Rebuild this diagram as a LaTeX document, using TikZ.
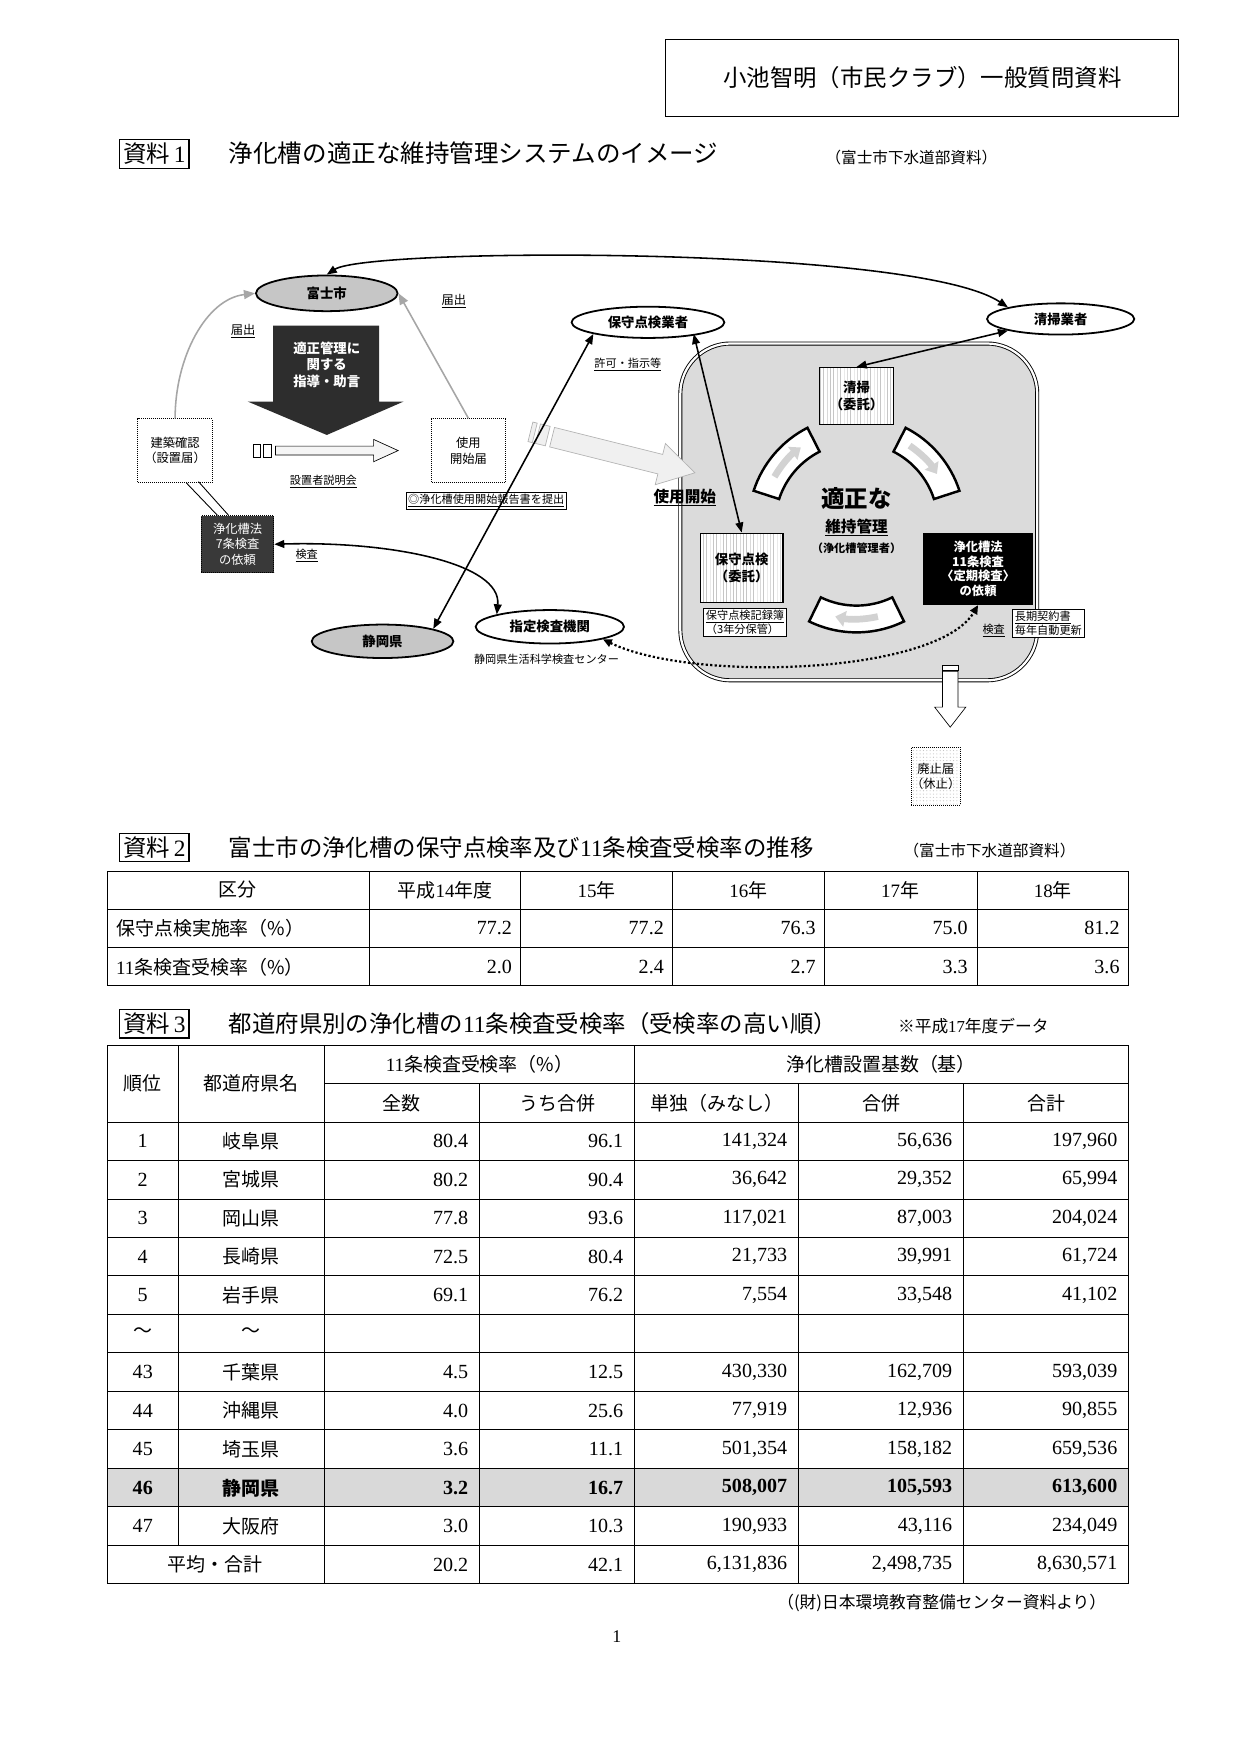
\documentclass[tikz,border=0pt]{standalone}
\usepackage{fontspec}
\setmainfont{Noto Sans CJK JP}
\newfontfamily\num{Liberation Serif}
\usetikzlibrary{arrows.meta,shapes.geometric,patterns,calc}
\tikzset{
 txt/.style={inner sep=0pt},
 ell/.style={draw,line width=1.6pt,ellipse,inner sep=0pt,font=\fontsize{12}{14}\bfseries},
 dotbox/.style={draw,densely dotted,line width=0.8pt,inner sep=0pt,fill=white},
 hatch/.style={draw,line width=1pt,preaction={fill=white},pattern=vertical lines,pattern color=gray!45,inner sep=0pt},
 conn/.style={line width=1.4pt,{Triangle[length=9pt,width=7pt]}-{Triangle[length=9pt,width=7pt]}},
 gconn/.style={line width=1.4pt,draw=gray!70,-{Triangle[length=10pt,width=8pt]},color=gray!70},
 band/.style={draw,line width=2.2pt,fill=white},
 inarr/.style={line width=6pt,draw=gray!35,-{Triangle[length=9pt,width=14pt]}},
 tl/.style={line width=0.8pt},
 cell/.style={inner sep=0pt,font=\fontsize{17}{19}\selectfont},
 label/.style={draw,line width=1pt,inner sep=3pt,font=\fontsize{21}{23}\selectfont},
}
\begin{document}
\begin{tikzpicture}[x=1pt,y=-1pt]
\useasboundingbox[fill=white] (0,0) rectangle (1110,1570);
% header
\node[draw,line width=1pt,minimum width=460pt,minimum height=69pt,font=\fontsize{21}{23}\selectfont] (hdr) at (827,70) {小池智明（市民クラブ）一般質問資料};
% 資料1
\node[label,anchor=west] (s1) at (107,138) {資料\,{\num 1}};
\node[txt,anchor=west,font=\fontsize{22}{24}\selectfont] (t1) at (205,137) {浄化槽の適正な維持管理システムのイメージ};
\node[txt,anchor=west,font=\fontsize{14}{16}\selectfont] (t1b) at (740,141) {（富士市下水道部資料）};

% ===== diagram =====
\node[draw,double,double distance=2pt,line width=0.8pt,rounded corners=45pt,fill=gray!28,minimum width=320pt,minimum height=302pt] (sys) at (770,459) {};
\node[ell,fill=gray!45,minimum width=127pt,minimum height=32pt] (fuji) at (293,263) {富士市};
\node[ell,fill=gray!45,minimum width=127pt,minimum height=30pt] (shizu) at (343,575) {静岡県};
\node[ell,fill=white,minimum width=133pt,minimum height=30pt] (shitei) at (493,562) {指定検査機関};
\node[ell,fill=white,minimum width=137pt,minimum height=28pt] (hoshu) at (581,289) {保守点検業者};
\node[ell,fill=white,minimum width=132pt,minimum height=28pt] (seiso) at (951,286) {清掃業者};
\node[txt,font=\fontsize{10}{12}\selectfont] (center) at (490,591) {静岡県生活科学検査センター};

% dark arrow
\fill[gray!35!black] (245,292) -- (340,292) -- (340,360) -- (362,360) -- (293,390) -- (222,360) -- (245,360) -- cycle;
\node[txt,align=center,text=white,font=\fontsize{12}{15}\bfseries] (shido) at (293,327) {適正管理に\\関する\\指導・助言};
\node[txt,font=\fontsize{11}{13}\selectfont] (tod1) at (218,297) {\underline{届出}};
\node[txt,font=\fontsize{11}{13}\selectfont] (tod2) at (407,270) {\underline{届出}};

\node[dotbox,minimum width=67pt,minimum height=57pt,align=center,font=\fontsize{11}{14}\selectfont] (kenchiku) at (157,404) {建築確認\\（設置届）};
\node[dotbox,minimum width=66pt,minimum height=57pt,align=center,font=\fontsize{11}{14}\selectfont] (shiyo) at (420,404) {使用\\開始届};
\node[draw,densely dotted,line width=0.8pt,fill=gray!45!black,text=white,minimum width=65pt,minimum height=51pt,align=center,inner sep=0pt,font=\fontsize{11}{14}\selectfont] (nana) at (213,488) {浄化槽法\\7条検査\\の依頼};

% small arrow
\draw[fill=white,line width=0.6pt] (227,398) rectangle (233,410);
\draw[fill=white,line width=0.6pt] (236,398) rectangle (243,410);
\draw[fill=gray!8,line width=0.6pt] (247,400) -- (335,400) -- (335,394) -- (357,404) -- (335,414) -- (335,408) -- (247,408) -- cycle;
\node[txt,font=\fontsize{10}{12}\selectfont] (setsu) at (290,432) {\underline{設置者説明会}};
\node[draw,line width=0.6pt,inner sep=2pt,font=\fontsize{10}{12}\selectfont] (hokoku) at (436,449) {\underline{◎浄化槽使用開始報告書を提出}};
\node[txt,font=\fontsize{10}{12}\selectfont] (kensa1) at (275,498) {\underline{検査}};
\node[txt,font=\fontsize{10}{12}\selectfont] (kyoka) at (563,327) {\underline{許可・指示等}};

% big grey arrow
\begin{scope}[shift={(495,392)},rotate=-14]
\draw[fill=gray!12,draw=gray!60,line width=0.6pt] (0,-9) -- (100,-9) -- (100,-19) -- (132,0) -- (100,19) -- (100,9) -- (0,9) -- cycle;
\draw[fill=gray!12,draw=gray!60,line width=0.6pt] (-20,-9) rectangle (-16,9);
\draw[fill=gray!12,draw=gray!60,line width=0.6pt] (-13,-9) rectangle (-4,9);
\end{scope}
\node[txt,font=\fontsize{14}{16}\bfseries] (kaishi) at (614,446) {\underline{使用開始}};

% inner boxes
\node[hatch,minimum width=66pt,minimum height=51pt,align=center,font=\fontsize{12}{15}\bfseries] (seisob) at (768,355) {清掃\\（委託）};
\node[hatch,minimum width=74pt,minimum height=62pt,align=center,font=\fontsize{12}{15}\bfseries] (hoshub) at (665,509) {保守点検\\（委託）};
\node[draw,line width=1pt,fill=black,text=white,minimum width=97pt,minimum height=64pt,inner sep=0pt,align=center,font=\fontsize{11}{13}\bfseries] (juichi) at (877,510) {浄化槽法\\11条検査\\〈定期検査〉\\の依頼};
\node[txt,font=\fontsize{21}{23}\bfseries] (tekisei) at (768,447) {適正な};
\node[txt,font=\fontsize{14}{16}\bfseries] (iji) at (768,473) {\underline{維持管理}};
\node[txt,font=\fontsize{10}{12}\bfseries] (kanri) at (768,492) {（浄化槽管理者）};
\node[draw,line width=0.6pt,fill=white,inner sep=2pt,align=left,font=\fontsize{10}{12}\selectfont] (kiroku) at (668,558) {\underline{保守点検記録簿}\\（3年分保管）};
\node[draw,line width=0.6pt,fill=white,inner sep=2pt,align=left,font=\fontsize{10}{12}\selectfont] (keiyaku) at (940,559) {\underline{長期契約書}\\毎年自動更新};
\node[txt,font=\fontsize{10}{12}\selectfont] (kensa2) at (891,565) {\underline{検査}};

% cycle bands
\coordinate (C) at (768,470);
\draw[band] ($(C)+(162:97pt)$) arc[start angle=162,end angle=117,radius=97pt] -- ($(C)+(117:73pt)$) arc[start angle=117,end angle=162,radius=73pt] -- cycle;
\draw[inarr] ($(C)+(150:85pt)$) arc[start angle=150,end angle=126,radius=85pt];
\draw[band] ($(C)+(63:97pt)$) arc[start angle=63,end angle=18,radius=97pt] -- ($(C)+(18:73pt)$) arc[start angle=18,end angle=63,radius=73pt] -- cycle;
\draw[inarr] ($(C)+(56:85pt)$) arc[start angle=56,end angle=32,radius=85pt];
\draw[band] ($(C)+(296:97pt)$) arc[start angle=296,end angle=244,radius=97pt] -- ($(C)+(244:73pt)$) arc[start angle=244,end angle=296,radius=73pt] -- cycle;
\draw[inarr] ($(C)+(283:85pt)$) arc[start angle=283,end angle=257,radius=85pt];

% down arrow and haishi
\draw[fill=white,line width=0.6pt] (845,597) rectangle (859,601);
\draw[fill=white,line width=0.6pt] (845,602) -- (859,602) -- (859,634) -- (866,634) -- (852,652) -- (838,634) -- (845,634) -- cycle;
\node[dotbox,pattern=dots,pattern color=gray!50,preaction={fill=white},minimum width=38pt,minimum height=52pt,align=center,font=\fontsize{11}{14}\selectfont] (haishi) at (839,696) {廃止届\\（休止）};

% connectors
\draw[conn] (fuji.north) .. controls (330,222) and (820,220) .. (seiso.north west);
\draw[gconn] (kenchiku.north) .. controls (157,320) and (185,268) .. (fuji.west);
\draw[gconn] (shiyo.north) -- (fuji.east);
\draw[tl] ($(kenchiku.south)+(10,0)$) -- ($(nana.north)+(-18,0)$);
\draw[tl] ($(kenchiku.south)+(21,-1)$) -- ($(nana.north)+(-8,0)$);
\draw[conn] (nana.east) .. controls (350,485) and (450,505) .. (shitei.north west);
\draw[conn] (hoshu.south west) -- (shizu.north east);
\draw[conn] ($(hoshu.south east)+(-8,0)$) -- (hoshub.north);
\draw[conn] (seiso.south west) -- (seisob.north);
\draw[line width=2pt,dotted,{Triangle[length=8pt,width=7pt]}-{Triangle[length=8pt,width=7pt]}] (shitei.south east) .. controls (620,612) and (840,605) .. (juichi.south);

% ===== 資料2 =====
\node[label,anchor=west] (s2) at (107,760) {資料\,{\num 2}};
\node[txt,anchor=west,font=\fontsize{21}{23}\selectfont] (t2) at (205,760) {富士市の浄化槽の保守点検率及び{\num 11}条検査受検率の推移};
\node[txt,anchor=west,font=\fontsize{14}{16}\selectfont] (t2b) at (810,763) {（富士市下水道部資料）};
\foreach \y in {781,815.3,849.7,884} \draw[tl] (96,\y) -- (1012,\y);
\foreach \x in {96,331,467,603,739,876,1012} \draw[tl] (\x,781) -- (\x,884);
\node[cell] (h0) at (213,798) {区分};
\node[cell] (h1) at (399,798) {平成{\num 14}年度};
\node[cell] (h2) at (535,798) {{\num 15}年};
\node[cell] (h3) at (671,798) {{\num 16}年};
\node[cell] (h4) at (807,798) {{\num 17}年};
\node[cell] (h5) at (944,798) {{\num 18}年};
\node[cell,anchor=west] (ra) at (104,832) {保守点検実施率（\%）};
\node[cell,anchor=west] (rb) at (104,867) {{\num 11}条検査受検率（\%）};
\foreach \v [count=\k] in {77.2,77.2,76.3,75.0,81.2} {
 \pgfmathsetmacro\xx{331+136.2*\k-8}
 \node[cell,anchor=east,font=\fontsize{18}{20}\num] (va\k) at (\xx,832) {\v};}
\foreach \v [count=\k] in {2.0,2.4,2.7,3.3,3.6} {
 \pgfmathsetmacro\xx{331+136.2*\k-8}
 \node[cell,anchor=east,font=\fontsize{18}{20}\num] (vb\k) at (\xx,867) {\v};}

% ===== 資料3 =====
\node[label,anchor=west] (s3) at (107,918) {資料\,{\num 3}};
\node[txt,anchor=west,font=\fontsize{21}{23}\selectfont] (t3) at (205,918) {都道府県別の浄化槽の{\num 11}条検査受検率（受検率の高い順）};
\node[txt,anchor=west,font=\fontsize{15}{17}\selectfont] (t3b) at (805,920) {※平成{\num 17}年度データ};
\fill[gray!30] (96,1316.5) rectangle (1012,1351);
\draw[tl] (96,937) -- (1012,937);
\draw[tl] (291,971.5) -- (1012,971.5);
\foreach \k in {2,...,14} \draw[tl] (96,937+34.5*\k) -- (1012,937+34.5*\k);
\foreach \x in {96,291,569,1012} \draw[tl] (\x,937) -- (\x,1420);
\draw[tl] (160,937) -- (160,1385.5);
\foreach \x in {430,716,864} \draw[tl] (\x,971.5) -- (\x,1420);
\node[cell] (g1) at (128,971.5) {順位};
\node[cell] (g2) at (225,971.5) {都道府県名};
\node[cell] (g3) at (430,954) {{\num 11}条検査受検率（\%）};
\node[cell] (g4) at (790,954) {浄化槽設置基数（基）};
\node[cell] (g5) at (360,989) {全数};
\node[cell] (g6) at (500,989) {うち合併};
\node[cell,anchor=west] (g7) at (583,989) {単独（みなし）};
\node[cell] (g8) at (790,989) {合併};
\node[cell] (g9) at (938,989) {合計};
\foreach \i/\r/\p/\a/\b/\c/\d/\e in {1/1/岐阜県/80.4/96.1/141{,}324/56{,}636/197{,}960,2/2/宮城県/80.2/90.4/36{,}642/29{,}352/65{,}994,3/3/岡山県/77.8/93.6/117{,}021/87{,}003/204{,}024,4/4/長崎県/72.5/80.4/21{,}733/39{,}991/61{,}724,5/5/岩手県/69.1/76.2/7{,}554/33{,}548/41{,}102,7/43/千葉県/4.5/12.5/430{,}330/162{,}709/593{,}039,8/44/沖縄県/4.0/25.6/77{,}919/12{,}936/90{,}855,9/45/埼玉県/3.6/11.1/501{,}354/158{,}182/659{,}536,11/47/大阪府/3.0/10.3/190{,}933/43{,}116/234{,}049} {
 \pgfmathsetmacro\yy{937+34.5*(\i+1)+17.25}
 \node[cell,font=\fontsize{18}{20}\num] (n\i) at (128,\yy) {\r};
 \node[cell] (p\i) at (225,\yy) {\p};
 \node[cell,anchor=east,font=\fontsize{18}{20}\num] (a\i) at (420,\yy) {\a};
 \node[cell,anchor=east,font=\fontsize{18}{20}\num] (b\i) at (559,\yy) {\b};
 \node[cell,anchor=east,font=\fontsize{18}{20}\num] (c\i) at (706,\yy) {\c};
 \node[cell,anchor=east,font=\fontsize{18}{20}\num] (d\i) at (854,\yy) {\d};
 \node[cell,anchor=east,font=\fontsize{18}{20}\num] (e\i) at (1002,\yy) {\e};
}
\node[cell] (n6) at (128,1195) {～};
\node[cell] (p6) at (225,1195) {～};
\node[cell,font=\fontsize{18}{20}\num\bfseries] (n10) at (128,1334) {46};
\node[cell,font=\fontsize{17}{19}\bfseries] (p10) at (225,1334) {静岡県};
\node[cell,anchor=east,font=\fontsize{18}{20}\num\bfseries] (a10) at (420,1334) {3.2};
\node[cell,anchor=east,font=\fontsize{18}{20}\num\bfseries] (b10) at (559,1334) {16.7};
\node[cell,anchor=east,font=\fontsize{18}{20}\num\bfseries] (c10) at (706,1334) {508,007};
\node[cell,anchor=east,font=\fontsize{18}{20}\num\bfseries] (d10) at (854,1334) {105,593};
\node[cell,anchor=east,font=\fontsize{18}{20}\num\bfseries] (e10) at (1002,1334) {613,600};
\node[cell] (p12) at (193,1403) {平均・合計};
\node[cell,anchor=east,font=\fontsize{18}{20}\num] (a12) at (420,1403) {20.2};
\node[cell,anchor=east,font=\fontsize{18}{20}\num] (b12) at (559,1403) {42.1};
\node[cell,anchor=east,font=\fontsize{18}{20}\num] (c12) at (706,1403) {6,131,836};
\node[cell,anchor=east,font=\fontsize{18}{20}\num] (d12) at (854,1403) {2,498,735};
\node[cell,anchor=east,font=\fontsize{18}{20}\num] (e12) at (1002,1403) {8,630,571};
\node[cell,anchor=east,font=\fontsize{15}{17}\selectfont] (src) at (992,1437) {（(財)日本環境教育整備センター資料より）};
\node[cell,font=\fontsize{16}{18}\num] (pg) at (553,1467) {1};
\end{tikzpicture}
\end{document}
